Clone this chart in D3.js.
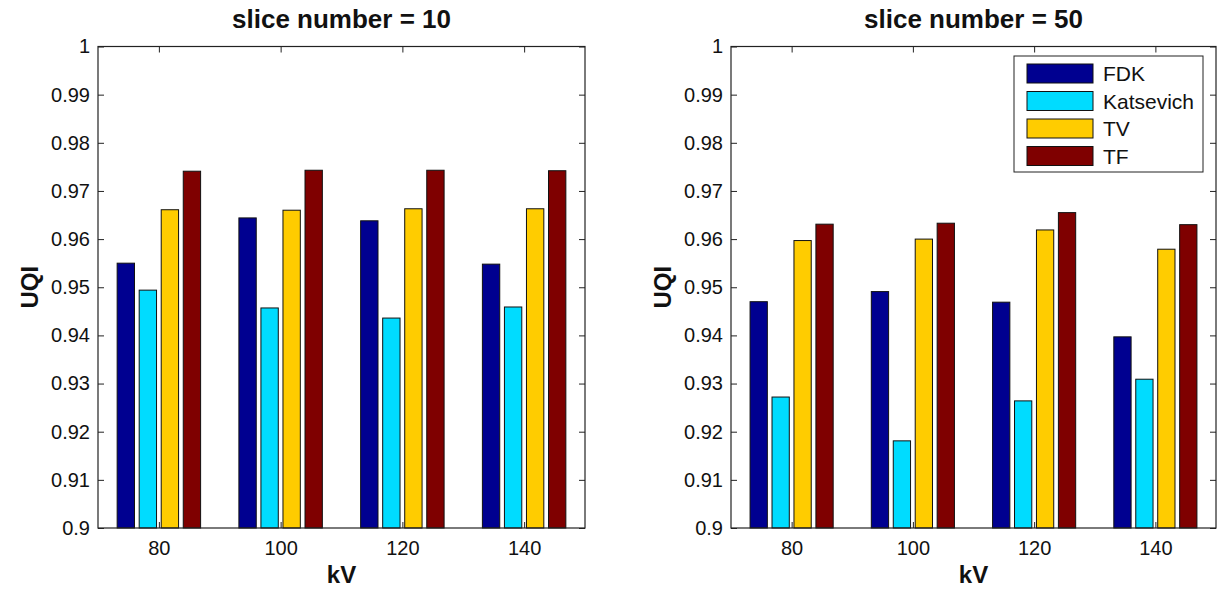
<!DOCTYPE html>
<html>
<head>
<meta charset="utf-8">
<script src="https://cdn.jsdelivr.net/npm/d3@7/dist/d3.min.js"></script>
<style>
  html, body { margin: 0; padding: 0; background: #fff; }
  svg { display: block; font-family: "Liberation Sans", Arial, Helvetica, sans-serif; }
</style>
</head>
<body>
<svg id="chart" width="1223" height="590"></svg>
<script>
// ---- data ----
const categories = [80, 100, 120, 140];
const seriesNames = ["FDK", "Katsevich", "TV", "TF"];
const seriesColors = ["#000090", "#00DCFF", "#FFCC00", "#7F0000"];

// slice number = 10
const fdk10 = [0.9550, 0.9644, 0.9638, 0.9548];
const kat10 = [0.9494, 0.9457, 0.9436, 0.9459];
const tv10  = [0.9661, 0.9660, 0.9663, 0.9663];
const tf10  = [0.9741, 0.9743, 0.9743, 0.9742];

// slice number = 50
const fdk50 = [0.9470, 0.9491, 0.9469, 0.9397];
const kat50 = [0.9272, 0.9181, 0.9264, 0.9309];
const tv50  = [0.9597, 0.9600, 0.9619, 0.9579];
const tf50  = [0.9631, 0.9633, 0.9655, 0.9630];

const yTicks = [0.9, 0.91, 0.92, 0.93, 0.94, 0.95, 0.96, 0.97, 0.98, 0.99, 1];
const yTickLabels = ["0.9", "0.91", "0.92", "0.93", "0.94", "0.95", "0.96", "0.97", "0.98", "0.99", "1"];
const titles = ["slice number = 10", "slice number = 50"];

// ---- layout ----
const svg = d3.select("#chart");
svg.append("rect").attr("width", 1223).attr("height", 590).attr("fill", "#fff");

const panels = [
  { x0: 98, x1: 585, title: titles[0], data: [fdk10, kat10, tv10, tf10], legend: false },
  { x0: 731, x1: 1216, title: titles[1], data: [fdk50, kat50, tv50, tf50], legend: true }
];
const yTop = 46.5, yBot = 528;
const barStep = 3.62;   // kV units between bars within a group
const barWidth = 2.85;  // kV units

panels.forEach(p => {
  const x = d3.scaleLinear().domain([70, 150]).range([p.x0, p.x1]);
  const y = d3.scaleLinear().domain([0.9, 1]).range([yBot, yTop]);
  const g = svg.append("g");

  // bars
  const w = x(barWidth) - x(0);
  p.data.forEach((vals, si) => {
    g.selectAll(null).data(vals).enter().append("rect")
      .attr("x", (d, i) => x(categories[i] + (si - 1.5) * barStep) - w / 2)
      .attr("y", d => y(d))
      .attr("width", w)
      .attr("height", d => y(0.9) - y(d))
      .attr("fill", seriesColors[si])
      .attr("stroke", "#111")
      .attr("stroke-width", 1);
  });

  const tl = 6;
  // left axis
  const la = g.append("g").attr("transform", `translate(${p.x0},0)`)
    .call(d3.axisLeft(y).tickValues(yTicks).tickFormat((d, i) => yTickLabels[i])
      .tickSizeInner(-tl).tickSizeOuter(0).tickPadding(8));
  // right axis
  const ra = g.append("g").attr("transform", `translate(${p.x1},0)`)
    .call(d3.axisRight(y).tickValues(yTicks).tickFormat("").tickSizeInner(-tl).tickSizeOuter(0));
  // bottom axis
  const ba = g.append("g").attr("transform", `translate(0,${yBot})`)
    .call(d3.axisBottom(x).tickValues(categories).tickFormat(d3.format("d"))
      .tickSizeInner(-tl).tickSizeOuter(0).tickPadding(13));
  // top axis
  const ta = g.append("g").attr("transform", `translate(0,${yTop})`)
    .call(d3.axisTop(x).tickValues(categories).tickFormat("").tickSizeInner(-tl).tickSizeOuter(0));

  [la, ra, ba, ta].forEach(a => {
    a.select(".domain").remove();
    a.selectAll("line").attr("stroke", "#222").attr("stroke-width", 1);
    a.selectAll("text").attr("font-size", 20).attr("fill", "#111")
      .attr("font-family", "'Liberation Sans', Arial, sans-serif");
  });

  // frame
  g.append("rect").attr("x", p.x0).attr("y", yTop)
    .attr("width", p.x1 - p.x0).attr("height", yBot - yTop)
    .attr("fill", "none").attr("stroke", "#222").attr("stroke-width", 1.2);

  const cx = (p.x0 + p.x1) / 2;
  // title
  g.append("text").attr("x", cx).attr("y", 28).attr("text-anchor", "middle")
    .attr("font-size", 26).attr("font-weight", "bold").attr("fill", "#111").text(p.title);
  // x label
  g.append("text").attr("x", cx).attr("y", 583).attr("text-anchor", "middle")
    .attr("font-size", 24).attr("font-weight", "bold").attr("fill", "#111").text("kV");
  // y label
  g.append("text").attr("transform", `translate(${p.x0 - 60},${(yTop + yBot) / 2}) rotate(-90)`)
    .attr("text-anchor", "middle").attr("font-size", 24).attr("font-weight", "bold")
    .attr("fill", "#111").text("UQI");

  // legend
  if (p.legend) {
    const lg = g.append("g");
    lg.append("rect").attr("x", 1014).attr("y", 56).attr("width", 189).attr("height", 116)
      .attr("fill", "#fff").attr("stroke", "#222").attr("stroke-width", 1);
    const ly = d3.scalePoint().domain(seriesNames).range([73.5, 156]);
    seriesNames.forEach((name, i) => {
      lg.append("rect").attr("x", 1027).attr("y", ly(name) - 9.5).attr("width", 66).attr("height", 19)
        .attr("fill", seriesColors[i]).attr("stroke", "#111").attr("stroke-width", 1);
      lg.append("text").attr("x", 1103).attr("y", ly(name)).attr("dy", "0.36em")
        .attr("font-size", 21).attr("fill", "#111").text(name);
    });
  }
});
</script>
</body>
</html>
